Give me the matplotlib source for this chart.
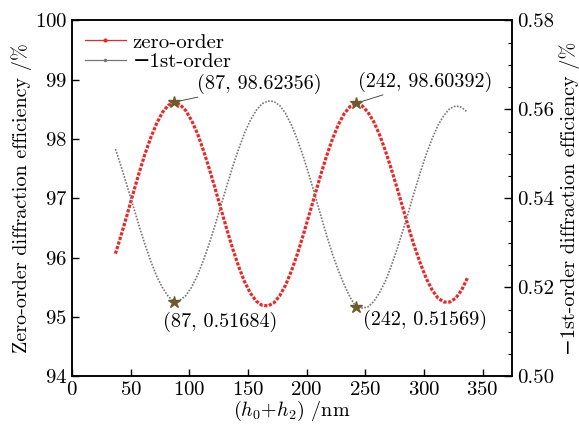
import numpy as np
import matplotlib
matplotlib.use("Agg")
import matplotlib.pyplot as plt
from matplotlib.lines import Line2D

plt.rcParams['font.family'] = ['cmr10', 'DejaVu Serif']
plt.rcParams['mathtext.fontset'] = 'cm'
plt.rcParams['axes.formatter.use_mathtext'] = True

# thickness (h0+h2) in nm
thickness = np.arange(37, 338, 5)

# zero-order efficiency (%), left axis
zero_order = [96.07, 96.39, 96.73, 97.08, 97.42, 97.74, 98.02, 98.26, 98.45, 98.57,
              98.62, 98.585, 98.48, 98.31, 98.09, 97.81, 97.50, 97.165, 96.82, 96.475,
              96.15, 95.855, 95.60, 95.405, 95.27, 95.20, 95.19, 95.24, 95.36, 95.54,
              95.78, 96.06, 96.38, 96.72, 97.06, 97.40, 97.72, 98.005, 98.245, 98.43,
              98.55, 98.60, 98.565, 98.46, 98.30, 98.08, 97.81, 97.505, 97.18, 96.84,
              96.50, 96.18, 95.90, 95.65, 95.455, 95.32, 95.255, 95.255, 95.32, 95.455,
              95.66]

# -1st-order efficiency (%), right axis
first_order = [0.5511, 0.5471, 0.5428, 0.5384, 0.5340, 0.5298, 0.5260, 0.5226, 0.5200, 0.5180,
               0.51684, 0.5171, 0.5182, 0.5201, 0.5228, 0.5261, 0.5299, 0.5341, 0.5385, 0.5429,
               0.5472, 0.5511, 0.5547, 0.5576, 0.5598, 0.5613, 0.5619, 0.5618, 0.5609, 0.5591,
               0.5565, 0.5533, 0.5495, 0.5453, 0.5408, 0.5362, 0.5317, 0.5275, 0.5238, 0.5206,
               0.5178, 0.51569, 0.5154, 0.5156, 0.5168, 0.5188, 0.5214, 0.5248, 0.5286, 0.5328,
               0.5372, 0.5417, 0.5460, 0.5500, 0.5535, 0.5565, 0.5587, 0.5602, 0.5608, 0.5605,
               0.5594]

peak_x = [87, 242]
peak_zero = [98.62356, 98.60392]
peak_first = [0.51684, 0.51569]

red = '#ee2626'
grey = '#777777'
star_c = '#6e5a2c'

fig = plt.figure(figsize=(5.79, 4.26), dpi=100)
ax = fig.add_axes([0.1244, 0.1162, 0.7599, 0.8357])
ax2 = ax.twinx()

ax.plot(thickness, zero_order, color=red, lw=2.3, ls=(0, (1, 0.5)), zorder=3)
ax2.plot(thickness, first_order, color=grey, lw=1.2, ls=(0, (1, 0.9)), zorder=3)

ax.plot(peak_x, peak_zero, ls='none', marker='*', ms=9, color=star_c, zorder=5)
ax2.plot(peak_x, peak_first, ls='none', marker='*', ms=9, color=star_c, zorder=5)

ax.set_xlim(0, 375)
ax.set_ylim(94, 100)
ax2.set_ylim(0.50, 0.58)
ax.set_xticks(np.arange(0, 351, 50))
ax.set_yticks(np.arange(94, 101, 1))
ax2.set_yticks(np.arange(0.50, 0.581, 0.02))
ax2.set_yticks(np.arange(0.50, 0.581, 0.005), minor=True)
ax2.set_yticklabels(['0.50', '0.52', '0.54', '0.56', '0.58'])

for a in (ax, ax2):
    for s in a.spines.values():
        s.set_linewidth(1.1)
ax.tick_params(axis='both', direction='in', length=5, width=1, labelsize=15, top=False, right=False)
ax2.tick_params(axis='y', which='major', direction='in', length=6, width=1, labelsize=15)
ax2.tick_params(axis='y', which='minor', direction='in', length=3, width=0.8)

ax.set_xlabel(r'($h_0$+$h_2$) /nm', fontsize=14.5, labelpad=0)
ax.set_ylabel('Zero-order diffraction efficiency /%', fontsize=14.5, labelpad=2)
ax2.set_ylabel('\u22121st-order diffraction efficiency /%', fontsize=14.5, labelpad=4)

handles = [Line2D([0], [0], color=red, lw=0.9, marker='.', ms=4),
           Line2D([0], [0], color=grey, lw=0.9, marker='.', ms=3)]
ax.legend(handles, ['zero-order', '\u22121st-order'], loc='upper left', frameon=False,
          fontsize=15, handlelength=2.0, handletextpad=0.3, labelspacing=0.05,
          borderaxespad=0.2, bbox_to_anchor=(0.0, 1.0))

lp = dict(arrowstyle='-', lw=0.6, color='#333333', shrinkA=1, shrinkB=5)
ax.annotate('(87, 98.62356)', xy=(peak_x[0], peak_zero[0]), xytext=(160, 98.93),
            ha='center', va='center', fontsize=14.5, arrowprops=lp)
ax.annotate('(242, 98.60392)', xy=(peak_x[1], peak_zero[1]), xytext=(301, 98.97),
            ha='center', va='center', fontsize=14.5, arrowprops=lp)
ax2.text(126, 0.5123, '(87, 0.51684)', ha='center', va='center', fontsize=14.5)
ax2.text(301, 0.5127, '(242, 0.51569)', ha='center', va='center', fontsize=14.5)

fig.savefig('out.png', dpi=100)
